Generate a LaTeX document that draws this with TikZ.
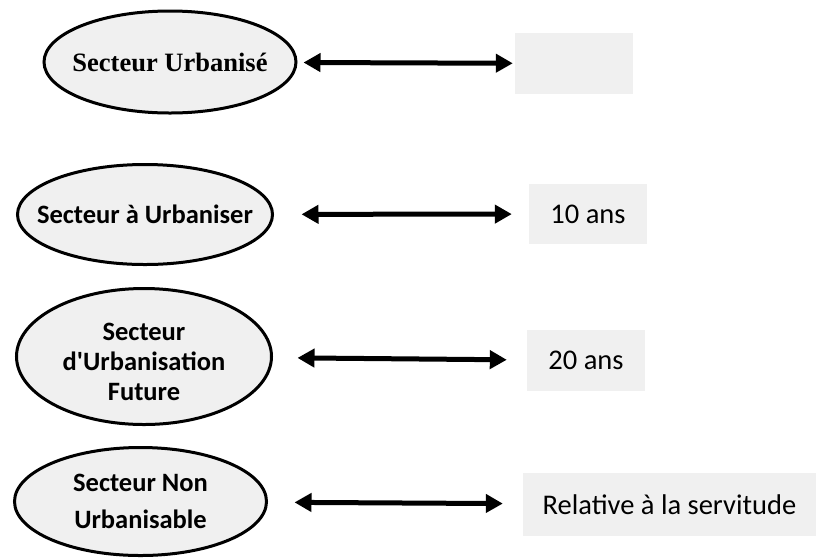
\documentclass[tikz,border=0pt]{standalone}
\usepackage{fontspec}
\setmainfont{Carlito}
\newfontfamily\timesfont{Liberation Serif}
\usetikzlibrary{shapes.geometric,arrows.meta}
\definecolor{zonefill}{HTML}{F0F0F0}
\definecolor{delayfill}{HTML}{F0F0F0}

\begin{document}
\begin{tikzpicture}[x=1pt, y=-1pt,
  zone/.style={ellipse, draw=black, line width=3pt, fill=zonefill, inner sep=0pt},
  zonetext/.style={align=center, inner sep=0pt, font=\fontsize{26.5}{30}\selectfont\bfseries},
  delay/.style={fill=delayfill, minimum width=118pt, minimum height=61pt, inner sep=0pt, font=\fontsize{28.5}{34}\selectfont},
  link/.style={{Triangle[length=17pt,width=18pt]}-{Triangle[length=17pt,width=18pt]}, line width=5pt}
]
  \useasboundingbox (0,0) rectangle (816,558);

  % sectors
  \node[zone, minimum width=252pt, minimum height=102pt,
    label={[zonetext, font=\timesfont\fontsize{26.5}{30}\selectfont\bfseries]center:Secteur Urbanisé}] (urb) at (170,62) {};
  \node[zone, minimum width=255pt, minimum height=100pt,
    label={[zonetext]center:Secteur à Urbaniser}] (aurb) at (145,214.5) {};
  \node[zone, minimum width=255pt, minimum height=136pt,
    label={[zonetext, yshift=-5pt]center:Secteur\\d\textquotesingle Urbanisation\\Future}] (fut) at (144,356.5) {};
  \node[zone, minimum width=252pt, minimum height=108pt,
    label={[zonetext, font=\fontsize{26.5}{37}\selectfont\bfseries]center:Secteur Non\\Urbanisable}] (nonurb) at (140.5,501.5) {};

  % delays
  \node[delay] (t1) at (574,63.5) {};
  \node[delay, minimum height=60pt] (t2) at (588,214) {10 ans};
  \node[delay] (t3) at (586,360.5) {20 ans};
  \node[delay, minimum width=293pt, minimum height=63pt] (t4) at (669.5,504.5) {Relative à la servitude};

  \draw[link, shorten <=6pt, shorten >=2pt] (urb) -- (t1);
  \draw[link, shorten <=27.5pt, shorten >=17pt] (aurb) -- (t2);
  \draw[link, shorten <=24.5pt, shorten >=20pt] (fut) -- (t3);
  \draw[link, shorten <=26.5pt, shorten >=20pt] (nonurb) -- (t4);
\end{tikzpicture}
\end{document}
